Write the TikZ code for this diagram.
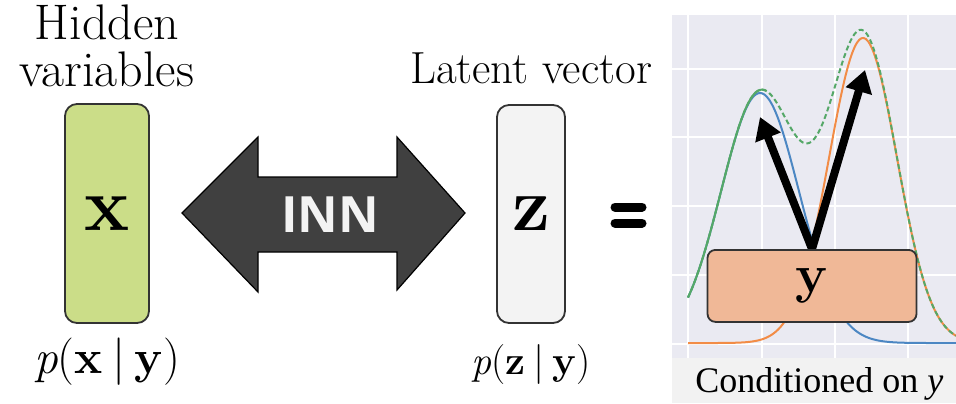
\documentclass[tikz,border=0pt]{standalone}
\usepackage{fontspec}
\newfontfamily\innfont{Open Sans}
\newfontfamily\capfont{Liberation Serif}
\usetikzlibrary{positioning,arrows.meta}
\definecolor{xgreen}{RGB}{203,221,136}
\definecolor{zgray}{RGB}{243,243,243}
\definecolor{ysalmon}{RGB}{240,184,151}
\definecolor{innfill}{RGB}{64,64,64}
\definecolor{panelbg}{RGB}{234,234,242}
\definecolor{capbg}{RGB}{242,242,242}
\definecolor{cblue}{RGB}{76,135,195}
\definecolor{corange}{RGB}{242,140,70}
\definecolor{cgreen}{RGB}{85,168,104}
\newcommand{\condp}[2]{\textit{p}(\textbf{#1}\hspace{0.2em}|\hspace{0.2em}\textbf{#2})}

\begin{document}
\begin{tikzpicture}[x=0.5pt, y=-0.5pt,
    varbox/.style={rectangle, draw=black!80, line width=0.9pt, rounded corners=6pt,
                   inner sep=0pt, font=\fontsize{38}{38}\selectfont\bfseries},
    lbl/.style={inner sep=0pt, align=center},
    curve/.style={line width=1pt},
    gridline/.style={white, line width=0.6pt},
    arr/.style={line width=4pt, -{Triangle[width=13pt,length=11pt]}},
    declare function={gb(\t)=250*exp(-0.5*((\t-760)/39)*((\t-760)/39));
                      go(\t)=305*exp(-0.5*((\t-863)/34)*((\t-863)/34));}
]
    \useasboundingbox (0,0) rectangle (956,403);

    \node[varbox, fill=xgreen, minimum width=42pt, minimum height=109.5pt] (xbox) at (107,213.5) {x};
    \node[varbox, fill=zgray, minimum width=34pt, minimum height=109pt] (zbox) at (531,214) {z};
    \node[lbl, font=\fontsize{25}{23.5}\selectfont, above=8pt of xbox] (hid) {Hidden\\variables};
    \node[lbl, font=\fontsize{22.5}{22.5}\selectfont, above=10pt of zbox] (lat) {Latent vector};
    \node[lbl, font=\fontsize{23.7}{24}\selectfont, below=7pt of xbox] (px) {\condp{x}{y}};
    \node[lbl, font=\fontsize{20}{20}\selectfont, below=10pt of zbox] (pz) {\condp{z}{y}};

    \fill[innfill, draw=black, line width=0.6pt]
        (182,213) -- (258,137) -- (258,177) -- (397,177) -- (397,137) -- (465,213)
        -- (397,290) -- (397,252) -- (258,252) -- (258,292) -- cycle;
    \node[lbl, font=\innfont\bfseries\fontsize{25}{25}\selectfont, text=zgray] (inn) at (330,215) {INN};

    \draw[line width=4.5pt, line cap=round] (615,207) -- (642,207) (615,223) -- (642,223);

    \fill[panelbg] (672,15) rectangle (956,358);
    \fill[capbg] (672,358) rectangle (956,403);
    \foreach \gx in {688,762,835,908}
        \draw[gridline] (\gx,15) -- (\gx,358);
    \foreach \gy in {69,137,206,275,344}
        \draw[gridline] (672,\gy) -- (956,\gy);

    \draw[curve, cblue] plot[domain=688:956, samples=120, smooth] (\x, {343-gb(\x)});
    \draw[curve, corange] plot[domain=688:956, samples=120, smooth] (\x, {343-go(\x)});
    \draw[curve, cgreen] plot[domain=688:766, samples=40, smooth] (\x, {343-gb(\x)-go(\x)});
    \draw[curve, cgreen, dash pattern=on 2.5pt off 1.5pt] plot[domain=688:956, samples=120, smooth] (\x, {343-gb(\x)-go(\x)});

    \coordinate (ytop) at (812,249);
    \coordinate (tipl) at (760,117);
    \coordinate (tipr) at (865,70);
    \draw[arr] (ytop) -- (tipl);
    \draw[arr] (ytop) -- (tipr);
    \node[varbox, fill=ysalmon, rounded corners=4pt, minimum width=104.5pt, minimum height=36pt,
          font=\fontsize{27}{27}\selectfont\bfseries, anchor=north] (ybox) at (ytop) {y};

    \node[lbl, font=\capfont\fontsize{18}{18}\selectfont, anchor=base west] (cond) at (695,392) {Conditioned on \itshape y};
\end{tikzpicture}
\end{document}
